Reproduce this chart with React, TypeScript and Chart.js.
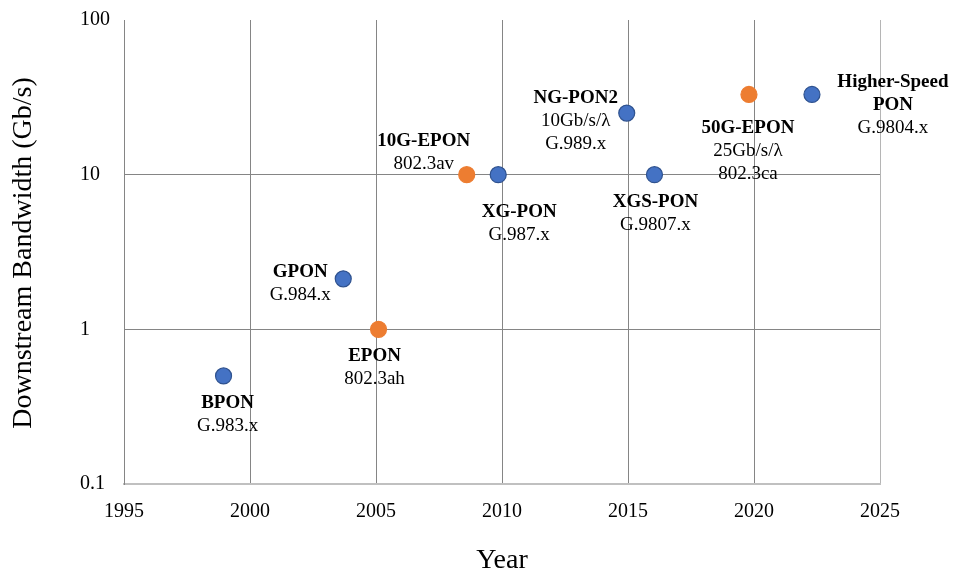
import React, { useEffect, useRef } from "react";
import { Chart, registerables } from "chart.js";

Chart.register(...registerables);

// ---- Data ----
const standards = ["BPON", "GPON", "EPON", "10G-EPON", "XG-PON", "NG-PON2", "XGS-PON", "50G-EPON", "Higher-Speed PON"];
const years = [1998.95, 2003.7, 2005.1, 2008.6, 2009.85, 2014.95, 2016.05, 2019.8, 2022.3];
const bandwidthGbps = [0.5, 2.12, 1, 10, 10, 25, 10, 33, 33];
const family = ["ITU-T", "ITU-T", "IEEE", "IEEE", "ITU-T", "ITU-T", "ITU-T", "IEEE", "ITU-T"];
const titleLines = [["BPON"], ["GPON"], ["EPON"], ["10G-EPON"], ["XG-PON"], ["NG-PON2"], ["XGS-PON"], ["50G-EPON"], ["Higher-Speed", "PON"]];
const subLines = [["G.983.x"], ["G.984.x"], ["802.3ah"], ["802.3av"], ["G.987.x"], ["10Gb/s/λ", "G.989.x"], ["G.9807.x"], ["25Gb/s/λ", "802.3ca"], ["G.9804.x"]];
const yTickValues = [0.1, 1, 10, 100];
const yTickLabels = ["0.1", "1", "10", "100"];
const xMin = 1995;
const xMax = 2025;
const xStep = 5;

// ---- Styles ----
const SERIF = "'Liberation Serif', 'Times New Roman', serif";
const familyColor: Record<string, { fill: string; border: string }> = {
  "ITU-T": { fill: "#4472C4", border: "#2F528F" },
  IEEE: { fill: "#ED7D31", border: "#ED7D31" },
};
// label block offset (first-line centre relative to the point), in px
const labelOffsets: [number, number][] = [
  [4, 27], [-43, -7], [-4, 27], [-43, -34], [21, 37], [-51, -15], [1, 27], [-1, 34], [81, -12],
];
const LINE_GAP = 23;

const labelPlugin = {
  id: "ponLabels",
  afterDatasetsDraw(chart: any) {
    const ctx = chart.ctx;
    const meta = chart.getDatasetMeta(0);
    ctx.save();
    ctx.fillStyle = "#000";
    ctx.textAlign = "center";
    ctx.textBaseline = "middle";
    meta.data.forEach((pt: any, i: number) => {
      const [dx, dy] = labelOffsets[i];
      let y = pt.y + dy;
      ctx.font = `bold 19px ${SERIF}`;
      titleLines[i].forEach((l) => { ctx.fillText(l, pt.x + dx, y); y += LINE_GAP; });
      ctx.font = `19px ${SERIF}`;
      subLines[i].forEach((l) => { ctx.fillText(l, pt.x + dx, y); y += LINE_GAP; });
    });
    ctx.restore();
  },
  afterDraw(chart: any) {
    const ctx = chart.ctx;
    const a = chart.chartArea;
    ctx.save();
    ctx.fillStyle = "#000";
    ctx.textAlign = "center";
    ctx.textBaseline = "middle";
    ctx.font = `28px ${SERIF}`;
    ctx.fillText("Year", (a.left + a.right) / 2, 561);
    ctx.translate(24, (a.top + a.bottom) / 2 + 1);
    ctx.rotate(-Math.PI / 2);
    ctx.fillText("Downstream Bandwidth (Gb/s)", 0, 0);
    ctx.restore();
  },
};

export default function App() {
  const ref = useRef<HTMLCanvasElement>(null);
  useEffect(() => {
    if (!ref.current) return;
    const chart = new Chart(ref.current, {
      type: "scatter",
      data: {
        datasets: [
          {
            label: "PON standards",
            data: years.map((x, i) => ({ x, y: bandwidthGbps[i] })),
            pointRadius: 8,
            pointHoverRadius: 8,
            pointBorderWidth: 1.2,
            pointBackgroundColor: family.map((f) => familyColor[f].fill),
            pointBorderColor: family.map((f) => familyColor[f].border),
          },
        ],
      },
      options: {
        responsive: false,
        animation: false,
        devicePixelRatio: 1,
        layout: { padding: { left: 80, right: 76, top: 20, bottom: 0 } },
        plugins: { legend: { display: false }, tooltip: { enabled: false }, title: { display: false } },
        scales: {
          x: {
            type: "linear",
            min: xMin,
            max: xMax,
            afterFit: (s: any) => { s.height = 91; },
            ticks: {
              stepSize: xStep,
              padding: 16,
              color: "#000",
              font: { family: SERIF, size: 20 },
              callback: (v: any) => String(v),
            },
            grid: {
              drawTicks: false,
              color: (c: any) => (c.tick && c.tick.value === xMax ? "#b5b5b5" : "#858585"),
              lineWidth: 1,
            },
            border: { display: true, color: "#c0c0c0", width: 2 },
          },
          y: {
            type: "logarithmic",
            min: 0.1,
            max: 100,
            afterFit: (s: any) => { s.width = 44; },
            afterBuildTicks: (s: any) => { s.ticks = yTickValues.map((value) => ({ value })); },
            ticks: {
              crossAlign: "far",
              color: "#000",
              font: { family: SERIF, size: 20 },
              callback: (v: any) => yTickLabels[yTickValues.indexOf(Number(v))] ?? "",
            },
            grid: {
              drawTicks: false,
              color: (c: any) => (c.tick && c.tick.value === 100 ? "rgba(0,0,0,0)" : "#858585"),
              lineWidth: 1,
            },
            border: { display: true, color: "#858585", width: 1 },
          },
        },
      },
      plugins: [labelPlugin],
    });
    return () => chart.destroy();
  }, []);
  return (
    <div style={{ position: "absolute", left: 0, top: 0, width: 956, height: 575, background: "#fff" }}>
      <canvas ref={ref} width={956} height={575} aria-label={standards.join(", ")} />
    </div>
  );
}
